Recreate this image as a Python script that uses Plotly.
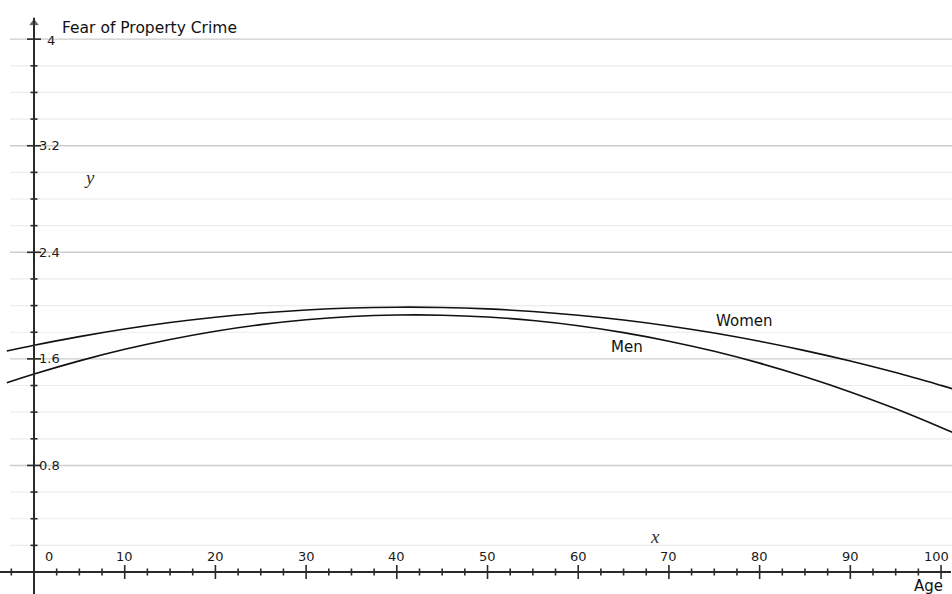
import plotly.graph_objects as go

# Data
ages = [-3, 0, 5, 10, 15, 20, 25, 30, 35, 40, 45, 50, 55, 60, 65, 70, 75, 80, 85, 90, 95, 100, 102]
women = [1.659, 1.702, 1.767, 1.824, 1.873, 1.913, 1.944, 1.967, 1.982, 1.988, 1.986, 1.975,
         1.956, 1.928, 1.892, 1.847, 1.794, 1.732, 1.662, 1.584, 1.497, 1.401, 1.361]
men = [1.420, 1.486, 1.585, 1.672, 1.746, 1.808, 1.857, 1.894, 1.918, 1.929, 1.928, 1.914,
       1.888, 1.849, 1.797, 1.733, 1.657, 1.568, 1.466, 1.352, 1.225, 1.085, 1.026]

x_major_ticks = [0, 10, 20, 30, 40, 50, 60, 70, 80, 90, 100]
x_tick_labels = ["0", "10", "20", "30", "40", "50", "60", "70", "80", "90", "100"]
x_minor_ticks = [-2.5, 2.5, 5, 7.5, 12.5, 15, 17.5, 22.5, 25, 27.5, 32.5, 35, 37.5, 42.5, 45, 47.5,
                 52.5, 55, 57.5, 62.5, 65, 67.5, 72.5, 75, 77.5, 82.5, 85, 87.5, 92.5, 95, 97.5]
y_major_ticks = [0.8, 1.6, 2.4, 3.2, 4.0]
y_tick_labels = ["0.8", "1.6", "2.4", "3.2", "4"]
y_minor_ticks = [0.2, 0.4, 0.6, 1.0, 1.2, 1.4, 1.8, 2.0, 2.2, 2.6, 2.8, 3.0, 3.4, 3.6, 3.8]

X_RANGE = [-3.749, 101.21]
Y_RANGE = [-0.165, 4.294]

FONT = "DejaVu Sans"
AXIS_COLOR = "#2a2a2a"

fig = go.Figure()

# gridlines
shapes = []
for v in y_minor_ticks:
    shapes.append(dict(type="line", xref="paper", yref="y", x0=10 / 952, x1=1, y0=v, y1=v,
                       line=dict(color="#ececec", width=1.2), layer="below"))
for v in y_major_ticks:
    shapes.append(dict(type="line", xref="paper", yref="y", x0=10 / 952, x1=1, y0=v, y1=v,
                       line=dict(color="#cdcdcd", width=1.4), layer="below"))
# axis lines
shapes.append(dict(type="line", xref="x", yref="y", x0=0, x1=0, y0=Y_RANGE[0], y1=4.16,
                   line=dict(color=AXIS_COLOR, width=2), layer="above"))
shapes.append(dict(type="line", xref="x", yref="y", x0=X_RANGE[0], x1=101.1, y0=0, y1=0,
                   line=dict(color=AXIS_COLOR, width=2), layer="above"))

# curves
fig.add_trace(go.Scatter(x=ages, y=women, mode="lines", line=dict(color="#111", width=1.6, shape="spline"),
                         name="Women", hoverinfo="skip"))
fig.add_trace(go.Scatter(x=ages, y=men, mode="lines", line=dict(color="#111", width=1.6, shape="spline"),
                         name="Men", hoverinfo="skip"))

# ticks as markers
fig.add_trace(go.Scatter(x=[0] * len(y_minor_ticks), y=y_minor_ticks, mode="markers",
                         marker=dict(symbol="line-ew", size=5, line=dict(color=AXIS_COLOR, width=1.6)),
                         hoverinfo="skip"))
fig.add_trace(go.Scatter(x=[0] * len(y_major_ticks), y=y_major_ticks, mode="markers",
                         marker=dict(symbol="line-ew", size=10, line=dict(color=AXIS_COLOR, width=1.6)),
                         hoverinfo="skip"))
fig.add_trace(go.Scatter(x=x_minor_ticks, y=[0] * len(x_minor_ticks), mode="markers",
                         marker=dict(symbol="line-ns", size=5, line=dict(color=AXIS_COLOR, width=1.6)),
                         hoverinfo="skip"))
fig.add_trace(go.Scatter(x=x_major_ticks[1:], y=[0] * (len(x_major_ticks) - 1), mode="markers",
                         marker=dict(symbol="line-ns", size=10, line=dict(color=AXIS_COLOR, width=1.6)),
                         hoverinfo="skip"))
# arrowheads
fig.add_trace(go.Scatter(x=[0], y=[4.12], mode="markers",
                         marker=dict(symbol="triangle-up", size=[10], color=AXIS_COLOR),
                         hoverinfo="skip"))
fig.add_trace(go.Scatter(x=[101.3], y=[0], mode="markers",
                         marker=dict(symbol="triangle-right", size=[10], color=AXIS_COLOR),
                         hoverinfo="skip", cliponaxis=False))

annotations = []
# x tick labels
for v, t in zip(x_major_ticks, x_tick_labels):
    if v == 0:
        xpos, anchor = 1.65, "center"
    elif v == 100:
        xpos, anchor = 101.1, "right"
    else:
        xpos, anchor = v, "center"
    annotations.append(dict(x=xpos, y=0.113, xref="x", yref="y", text=t, showarrow=False,
                            xanchor=anchor, yanchor="middle",
                            font=dict(family=FONT, size=13, color="#1a1a1a")))
# y tick labels
for v, t in zip(y_major_ticks, y_tick_labels):
    xpos = 1.3 if t == "4" else 0.44
    ypos = v - 0.008 if t == "4" else v
    annotations.append(dict(x=xpos, y=ypos, xref="x", yref="y", text=t, showarrow=False,
                            xanchor="left", yanchor="middle", xshift=-1,
                            font=dict(family=FONT, size=13, color="#1a1a1a")))

annotations += [
    dict(x=2.87, y=4.084, xref="x", yref="y", text="Fear of Property Crime", showarrow=False,
         xanchor="left", yanchor="middle", font=dict(family=FONT, size=15.5, color="#111")),
    dict(x=6.17, y=2.958, xref="x", yref="y", text="<i>y</i>", showarrow=False,
         xanchor="center", yanchor="middle", font=dict(family="Liberation Serif", size=19, color="#333")),
    dict(x=68.47, y=0.263, xref="x", yref="y", text="<i>x</i>", showarrow=False,
         xanchor="center", yanchor="middle", font=dict(family="Liberation Serif", size=19, color="#333")),
    dict(x=98.57, y=-0.107, xref="x", yref="y", text="Age", showarrow=False,
         xanchor="center", yanchor="middle", font=dict(family=FONT, size=15, color="#111")),
    dict(x=78.28, y=1.887, xref="x", yref="y", text="Women", showarrow=False,
         xanchor="center", yanchor="middle", font=dict(family=FONT, size=15, color="#111")),
    dict(x=65.38, y=1.687, xref="x", yref="y", text="Men", showarrow=False,
         xanchor="center", yanchor="middle", font=dict(family=FONT, size=15, color="#111")),
]

fig.update_layout(
    width=952, height=594,
    margin=dict(l=0, r=0, t=0, b=0),
    paper_bgcolor="white", plot_bgcolor="white",
    showlegend=False,
    shapes=shapes,
    annotations=annotations,
    xaxis=dict(range=X_RANGE, visible=False, fixedrange=True),
    yaxis=dict(range=Y_RANGE, visible=False, fixedrange=True),
)

fig.write_html("out.html",
               config={"displayModeBar": False},
               post_script="document.body.style.margin='0';document.body.style.overflow='hidden';")
